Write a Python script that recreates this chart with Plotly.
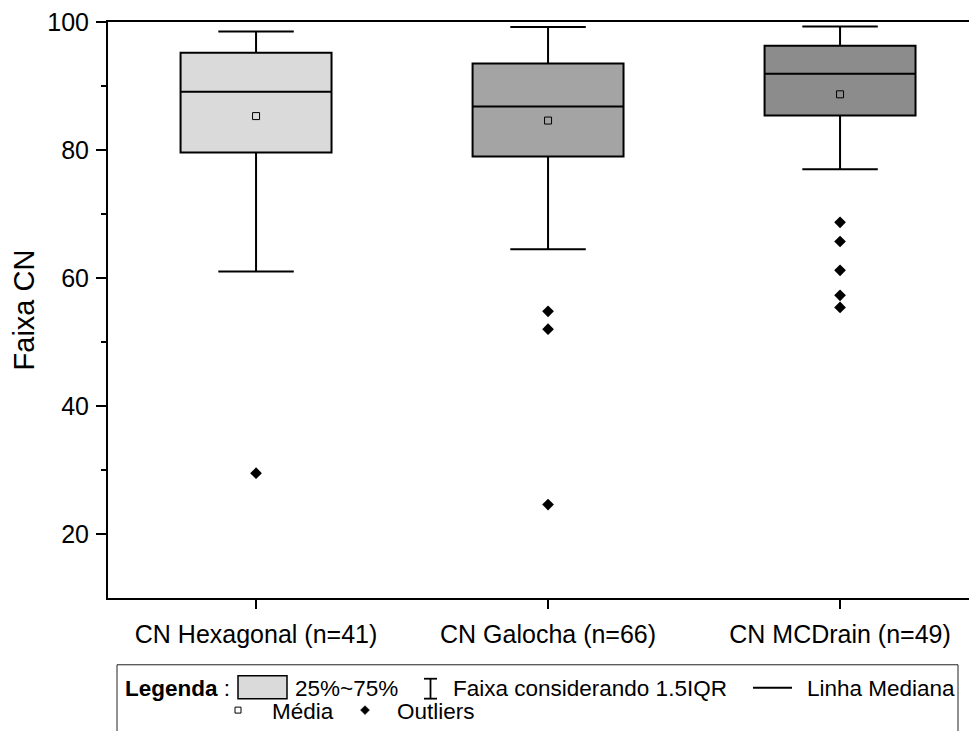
import plotly.graph_objects as go

categories = ["CN Hexagonal (n=41)", "CN Galocha (n=66)", "CN MCDrain (n=49)"]
q1 = [79.6, 79.0, 85.4]
median = [89.1, 86.8, 91.9]
q3 = [95.2, 93.5, 96.3]
lower_whisker = [61.0, 64.5, 77.0]
upper_whisker = [98.5, 99.2, 99.3]
means = [85.3, 84.6, 88.7]
outliers = [
    [29.5],
    [54.8, 52.0, 24.6],
    [68.7, 65.7, 61.2, 57.3, 55.4],
]
fills = ["#dadada", "#a4a4a4", "#8c8c8c"]

FONT = "Liberation Sans, Arial, sans-serif"
OFF = 8  # page body margin
W, H = 977 - OFF, 731 - OFF
L, R, T, B = 108 - OFF, 0, 20 - OFF, 731 - 598
PW, PH = W - L - R, H - T - B


def px(x):
    return (x - OFF - L) / PW


def py(y):
    return (H - B - (y - OFF)) / PH


fig = go.Figure()
for i, c in enumerate(categories):
    fig.add_trace(go.Box(
        x=[c], q1=[q1[i]], median=[median[i]], q3=[q3[i]],
        lowerfence=[lower_whisker[i]], upperfence=[upper_whisker[i]],
        width=0.517, whiskerwidth=0.5, boxpoints=False,
        fillcolor=fills[i], line=dict(color="black", width=2),
        showlegend=False, hoverinfo="skip",
    ))

fig.add_trace(go.Scatter(
    x=categories, y=means, mode="markers",
    marker=dict(symbol="square-open", size=7, color="black", line=dict(width=1)),
    showlegend=False,
))

ox, oy = [], []
for i, c in enumerate(categories):
    for v in outliers[i]:
        ox.append(c)
        oy.append(v)
fig.add_trace(go.Scatter(
    x=ox, y=oy, mode="markers",
    marker=dict(symbol="diamond", size=9, color="black"),
    showlegend=False,
))

# Legend box and contents (layout elements)
shapes = [
    dict(type="rect", xref="paper", yref="paper", x0=px(117), x1=px(958), y0=py(665), y1=py(745),
         line=dict(color="#222", width=1), fillcolor="white", layer="above"),
    dict(type="rect", xref="paper", yref="paper", x0=px(238), x1=px(287), y0=py(676), y1=py(699),
         line=dict(color="black", width=1.5), fillcolor=fills[0]),
    dict(type="line", xref="paper", yref="paper", x0=px(430.5), x1=px(430.5), y0=py(679), y1=py(699),
         line=dict(color="black", width=1.8)),
    dict(type="line", xref="paper", yref="paper", x0=px(424), x1=px(437), y0=py(679), y1=py(679),
         line=dict(color="black", width=1.8)),
    dict(type="line", xref="paper", yref="paper", x0=px(424), x1=px(437), y0=py(699), y1=py(699),
         line=dict(color="black", width=1.8)),
    dict(type="line", xref="paper", yref="paper", x0=px(753), x1=px(792), y0=py(688), y1=py(688),
         line=dict(color="black", width=2)),
    dict(type="rect", xref="paper", yref="paper", x0=px(235), x1=px(241), y0=py(707.5), y1=py(713.5),
         line=dict(color="black", width=1), fillcolor="white"),
    dict(type="path", xref="paper", yref="paper",
         path=f"M {px(365)},{py(706)} L {px(369.5)},{py(710.5)} L {px(365)},{py(715)} L {px(360.5)},{py(710.5)} Z",
         line=dict(color="black", width=0.5), fillcolor="black"),
]

annots = []


def txt(t, x, y):
    annots.append(dict(text=t, x=px(x), y=py(y), xref="paper", yref="paper",
                       xanchor="left", yanchor="middle", showarrow=False,
                       font=dict(family=FONT, size=22.5, color="black")))


txt("<b>Legenda</b> :", 123, 689)
txt("25%~75%", 293, 689)
txt("Faixa considerando 1.5IQR", 451, 689)
txt("Linha Mediana", 805, 689)
txt("Média", 270, 712)
txt("Outliers", 395, 712)

fig.update_layout(
    width=W, height=H,
    margin=dict(l=L, r=R, t=T, b=B),
    paper_bgcolor="white", plot_bgcolor="white",
    boxmode="overlay",
    shapes=shapes, annotations=annots,
    font=dict(family=FONT, color="black"),
    xaxis=dict(
        type="category", range=[-0.507, 2.469],
        showline=True, linecolor="black", linewidth=2, mirror=True,
        ticks="outside", ticklen=9, tickwidth=2, tickcolor="black",
        tickfont=dict(size=25, family=FONT, color="black"),
        ticklabelstandoff=4,
        showgrid=False, zeroline=False,
    ),
    yaxis=dict(
        range=[10, 100], tickvals=[20, 40, 60, 80, 100],
        showline=True, linecolor="black", linewidth=2,
        ticks="outside", ticklen=10, tickwidth=2, tickcolor="black",
        minor=dict(tickvals=[30, 50, 70, 90], ticks="outside", ticklen=5, tickwidth=2, tickcolor="black"),
        tickfont=dict(size=25, family=FONT, color="black"),
        ticklabeloverflow="allow", ticklabelstandoff=2,
        title=dict(text="Faixa CN", font=dict(size=29, family=FONT, color="black"), standoff=19),
        showgrid=False, zeroline=False,
    ),
)

fig.write_html("out.html")
